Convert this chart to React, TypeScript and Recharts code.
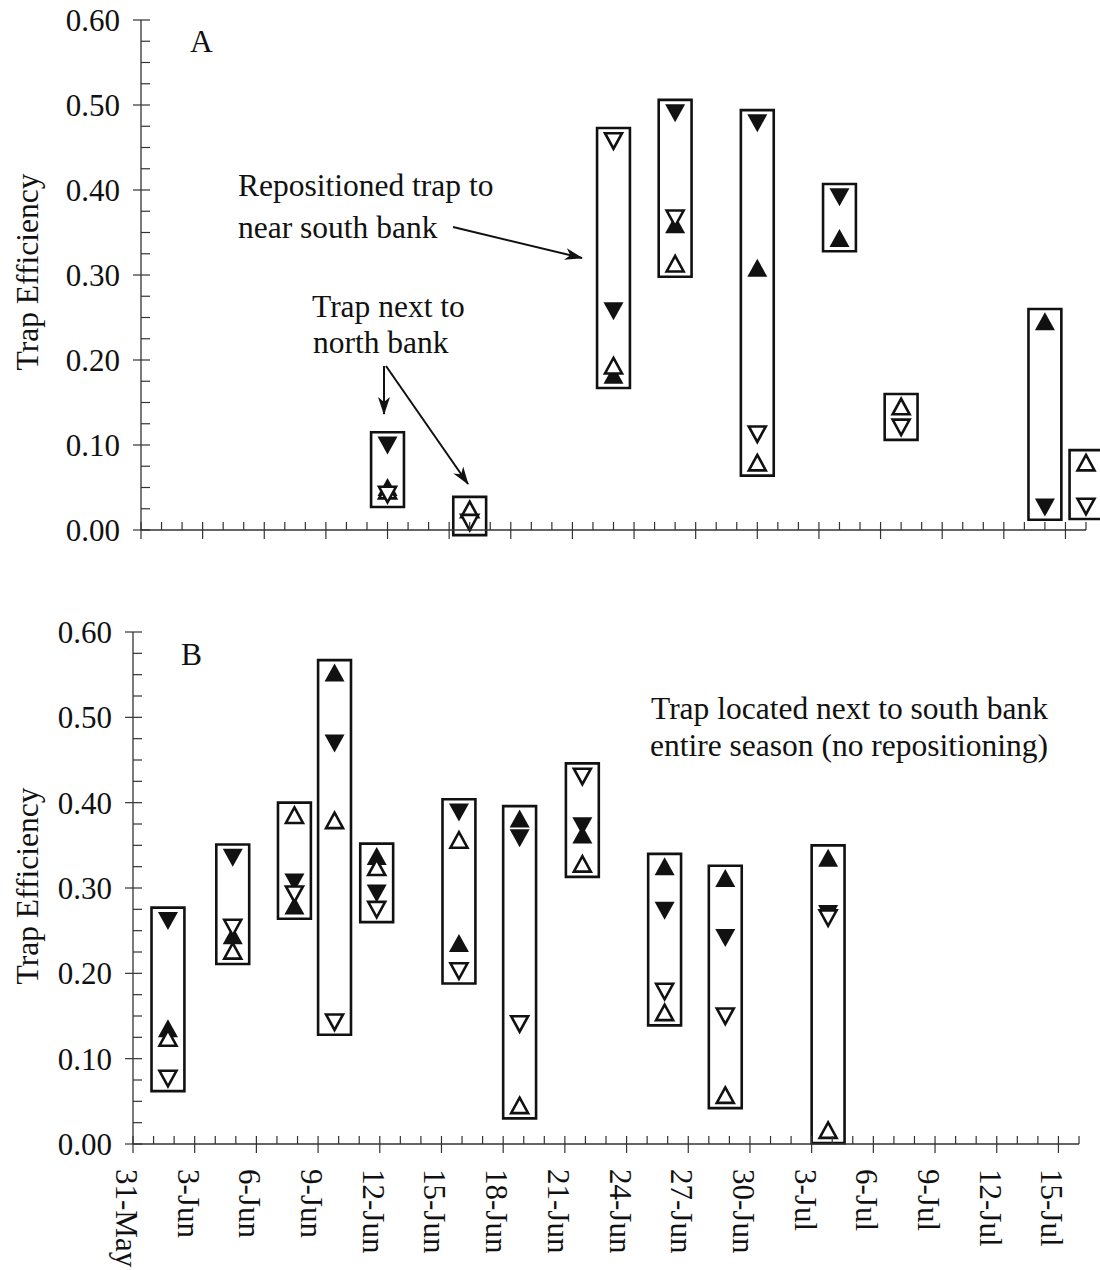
import React from "react";
import { ScatterChart, Scatter, XAxis, YAxis, ReferenceArea } from "recharts";

const FONT = '"Liberation Serif", "Times New Roman", serif';
const INK = "#111";

// x positions are days after 31-May
const dateLabels = [
  "31-May", "3-Jun", "6-Jun", "9-Jun", "12-Jun", "15-Jun", "18-Jun", "21-Jun",
  "24-Jun", "27-Jun", "30-Jun", "3-Jul", "6-Jul", "9-Jul", "12-Jul", "15-Jul",
];
const yLabels = ["0.00", "0.10", "0.20", "0.30", "0.40", "0.50", "0.60"];

// panel A: trap repositioned during the season
const aDays = [12, 16, 23, 26, 30, 34, 37, 44, 46];
const aFilledUp = [0.05, null, 0.182, 0.359, 0.308, 0.343, null, 0.245, null];
const aFilledDown = [0.1, null, 0.258, 0.491, 0.479, 0.392, null, 0.027, null];
const aOpenUp = [0.046, 0.024, 0.193, 0.313, 0.079, null, 0.145, null, 0.079];
const aOpenDown = [0.042, 0.009, 0.458, 0.367, 0.113, null, 0.121, null, 0.028];

// panel B: trap next to south bank all season
const bDays = [1.7, 4.85, 7.85, 9.8, 11.85, 15.85, 18.8, 21.85, 25.85, 28.8, 33.8];
const bFilledUp = [0.135, 0.244, 0.279, 0.552, 0.337, 0.235, 0.381, 0.362, 0.325, 0.311, 0.335];
const bFilledDown = [0.262, 0.336, 0.307, 0.47, 0.294, 0.389, 0.359, 0.373, 0.274, 0.242, 0.27];
const bOpenUp = [0.124, 0.226, 0.385, 0.379, 0.324, 0.356, 0.045, 0.328, 0.154, 0.057, 0.016];
const bOpenDown = [0.077, 0.254, 0.293, 0.143, 0.275, 0.203, 0.141, 0.431, 0.179, 0.15, 0.265];

const xTicks = Array.from({ length: 47 }, (_, i) => i);
const yTicks = Array.from({ length: 25 }, (_, i) => i / 40);

const BOX_HALF = 0.8; // days
const BOX_PAD = 0.015; // efficiency units

type Pt = { day: number; v: number };

const toPoints = (days: number[], vals: (number | null)[]): Pt[] =>
  days.flatMap((d, i) => (vals[i] == null ? [] : [{ day: d, v: vals[i] as number }]));

const toBoxes = (days: number[], series: (number | null)[][]) =>
  days.map((d, i) => {
    const vals = series.map((s) => s[i]).filter((v) => v != null) as number[];
    return { day: d, lo: Math.min(...vals), hi: Math.max(...vals) };
  });

const FilledUp = (p: any) => (
  <path d={`M${p.cx},${p.cy - 9.5} L${p.cx + 10},${p.cy + 8.5} L${p.cx - 10},${p.cy + 8.5} Z`} fill={INK} />
);
const FilledDown = (p: any) => (
  <path d={`M${p.cx - 10},${p.cy - 8.5} L${p.cx + 10},${p.cy - 8.5} L${p.cx},${p.cy + 9.5} Z`} fill={INK} />
);
const OpenUp = (p: any) => (
  <path
    d={`M${p.cx},${p.cy - 8} L${p.cx + 8.5},${p.cy + 7.5} L${p.cx - 8.5},${p.cy + 7.5} Z`}
    fill="#fff"
    stroke={INK}
    strokeWidth={2.6}
  />
);
const OpenDown = (p: any) => (
  <path
    d={`M${p.cx - 8.5},${p.cy - 7.5} L${p.cx + 8.5},${p.cy - 7.5} L${p.cx},${p.cy + 8} Z`}
    fill="#fff"
    stroke={INK}
    strokeWidth={2.6}
  />
);

const XTick = ({ x, y, payload, showLabels }: any) => {
  const d = payload.value;
  const major = d % 3 === 0 && d <= 45;
  const label = major ? dateLabels[d / 3] : null;
  return (
    <g>
      <line x1={x} x2={x} y1={y - 8} y2={major ? y + 9 : y} stroke="#333" strokeWidth={1.2} />
      {showLabels && label && (
        <text
          transform={`translate(${x - 17},${y + 25}) rotate(90)`}
          fontSize={31}
          fontFamily={FONT}
          fill={INK}
        >
          {label}
        </text>
      )}
    </g>
  );
};

const YTick = ({ x, y, payload }: any) => {
  const idx = Math.round(payload.value * 40);
  const major = idx % 4 === 0;
  return (
    <g>
      <line x1={major ? x - 8 : x} x2={x + 9} y1={y} y2={y} stroke="#333" strokeWidth={1.2} />
      {major && (
        <text x={x - 21} y={y + 11} textAnchor="end" fontSize={31} fontFamily={FONT} fill={INK}>
          {yLabels[idx / 4]}
        </text>
      )}
    </g>
  );
};

type PanelProps = {
  days: number[];
  filledUp: (number | null)[];
  filledDown: (number | null)[];
  openUp: (number | null)[];
  openDown: (number | null)[];
  height: number;
  margin: { top: number; right: number; left: number; bottom: number };
  xAxisHeight: number;
  showLabels: boolean;
};

const Panel = ({ days, filledUp, filledDown, openUp, openDown, height, margin, xAxisHeight, showLabels }: PanelProps) => {
  const boxes = toBoxes(days, [filledUp, filledDown, openUp, openDown]);
  return (
    <ScatterChart width={1100} height={height} margin={margin}>
      <XAxis
        type="number"
        dataKey="day"
        domain={[0, 46]}
        ticks={xTicks}
        interval={0}
        height={xAxisHeight}
        tickSize={0}
        tickMargin={0}
        tickLine={false}
        axisLine={{ stroke: "#333", strokeWidth: 1.3 }}
        tick={(p: any) => <XTick {...p} showLabels={showLabels} />}
      />
      <YAxis
        type="number"
        dataKey="v"
        domain={[0, 0.6]}
        ticks={yTicks}
        interval={0}
        width={60}
        tickSize={0}
        tickMargin={0}
        tickLine={false}
        axisLine={{ stroke: "#333", strokeWidth: 1.3 }}
        tick={(p: any) => <YTick {...p} />}
      />
      {boxes.map((b, i) => (
        <ReferenceArea
          key={`box-${i}`}
          x1={b.day - BOX_HALF}
          x2={b.day + BOX_HALF}
          y1={b.lo - BOX_PAD}
          y2={b.hi + BOX_PAD}
          fill="none"
          fillOpacity={0}
          stroke={INK}
          strokeWidth={2.6}
          ifOverflow="visible"
        />
      ))}
      <Scatter data={toPoints(days, filledUp)} shape={FilledUp} isAnimationActive={false} />
      <Scatter data={toPoints(days, filledDown)} shape={FilledDown} isAnimationActive={false} />
      <Scatter data={toPoints(days, openUp)} shape={OpenUp} isAnimationActive={false} />
      <Scatter data={toPoints(days, openDown)} shape={OpenDown} isAnimationActive={false} />
    </ScatterChart>
  );
};

const txt = { fontFamily: FONT, fontSize: 31.5, fill: INK };

const Overlay = () => (
  <svg width={1100} height={1270} style={{ position: "absolute", left: 0, top: 0, pointerEvents: "none" }}>
    <defs>
      <marker id="head" markerWidth={18} markerHeight={12} refX={17} refY={6} orient="auto" markerUnits="userSpaceOnUse">
        <path d="M0,0 L18,6 L0,12 L5,6 Z" fill={INK} />
      </marker>
    </defs>
    <text transform="translate(38,272) rotate(-90)" textAnchor="middle" {...txt}>Trap Efficiency</text>
    <text transform="translate(38,886) rotate(-90)" textAnchor="middle" {...txt}>Trap Efficiency</text>
    <text x={190} y={52} {...txt}>A</text>
    <text x={181} y={665} {...txt}>B</text>
    <text x={238} y={196} {...txt}>Repositioned trap to</text>
    <text x={238} y={238} {...txt}>near south bank</text>
    <text x={312} y={317} {...txt}>Trap next to</text>
    <text x={313} y={353} {...txt}>north bank</text>
    <text x={651} y={719} {...txt}>Trap located next to south bank</text>
    <text x={650} y={756} {...txt}>entire season (no repositioning)</text>
    <line x1={453} y1={227} x2={582} y2={258} stroke={INK} strokeWidth={2} markerEnd="url(#head)" />
    <line x1={384} y1={366} x2={384} y2={414} stroke={INK} strokeWidth={2} markerEnd="url(#head)" />
    <line x1={386} y1={366} x2={468} y2={484} stroke={INK} strokeWidth={2} markerEnd="url(#head)" />
  </svg>
);

export default function App() {
  return (
    <div style={{ position: "absolute", left: 0, top: 0, width: 1100, height: 1270, background: "#fff" }}>
      <div style={{ position: "absolute", left: 0, top: 0 }}>
        <Panel
          days={aDays}
          filledUp={aFilledUp}
          filledDown={aFilledDown}
          openUp={aOpenUp}
          openDown={aOpenDown}
          height={560}
          margin={{ top: 20, right: 14, left: 81, bottom: 20 }}
          xAxisHeight={10}
          showLabels={false}
        />
      </div>
      <div style={{ position: "absolute", left: 0, top: 600 }}>
        <Panel
          days={bDays}
          filledUp={bFilledUp}
          filledDown={bFilledDown}
          openUp={bOpenUp}
          openDown={bOpenDown}
          height={670}
          margin={{ top: 32, right: 21, left: 73, bottom: 6 }}
          xAxisHeight={120}
          showLabels={true}
        />
      </div>
      <Overlay />
    </div>
  );
}
